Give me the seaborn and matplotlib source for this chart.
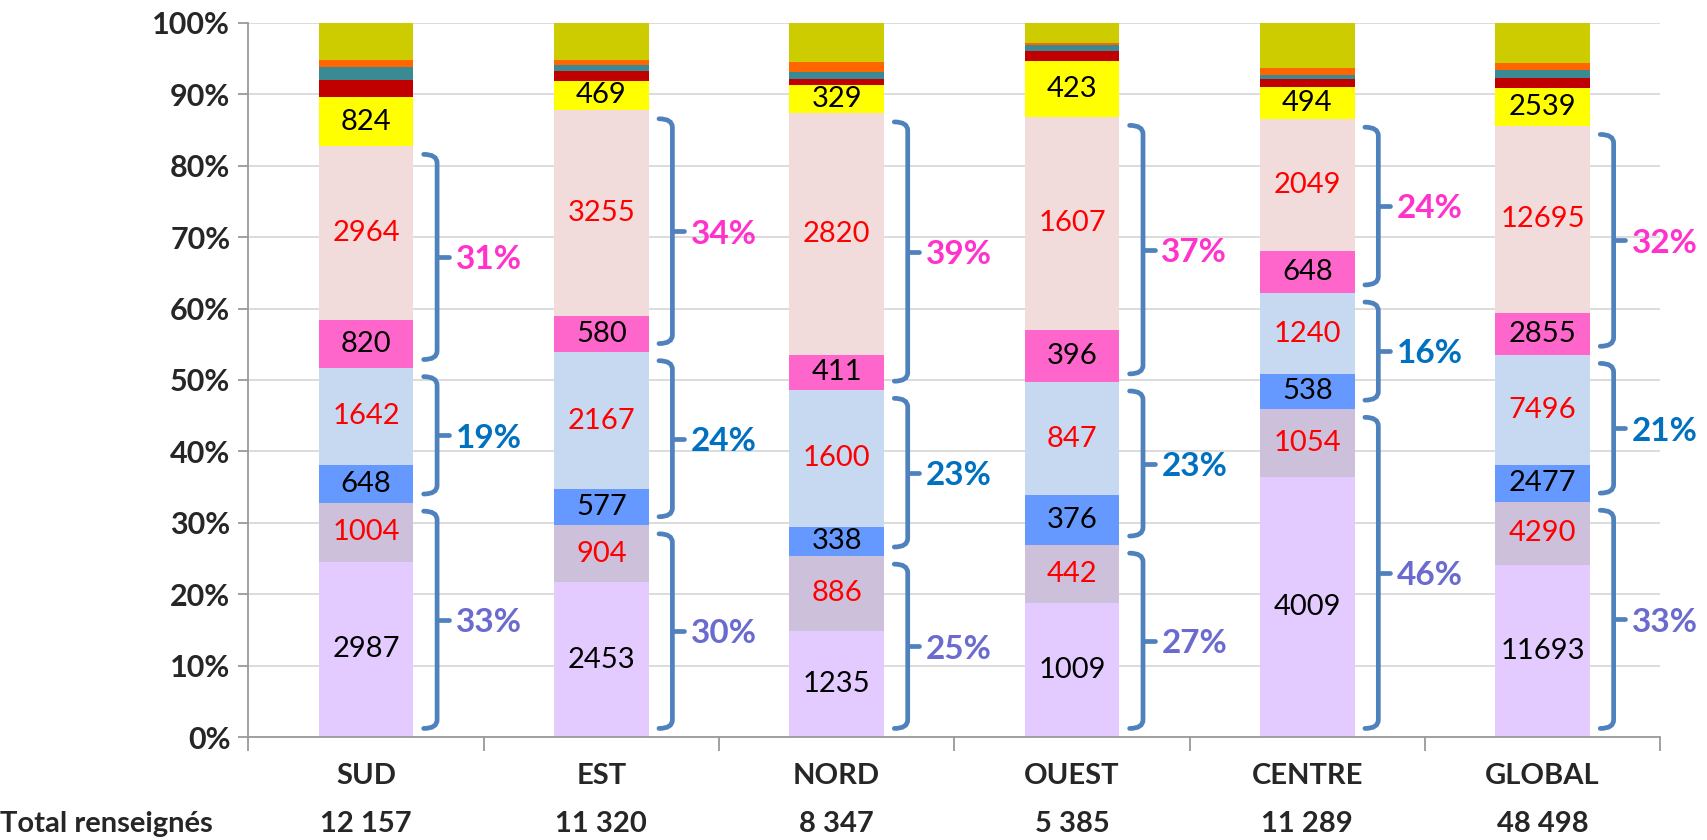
import matplotlib
matplotlib.use("Agg")
import matplotlib.pyplot as plt
from matplotlib.path import Path
from matplotlib.patches import PathPatch
from matplotlib.ticker import PercentFormatter
import seaborn as sns
import pandas as pd

# regions and "total renseignés"
regions = ["SUD", "EST", "NORD", "OUEST", "CENTRE", "GLOBAL"]
totals = [12157, 11320, 8347, 5385, 11289, 48498]

# segments, bottom to top (counts)
s1 = [2987, 2453, 1235, 1009, 4009, 11693]
s2 = [1004, 904, 886, 442, 1054, 4290]
s3 = [648, 577, 338, 376, 538, 2477]
s4 = [1642, 2167, 1600, 847, 1240, 7496]
s5 = [820, 580, 411, 396, 648, 2855]
s6 = [2964, 3255, 2820, 1607, 2049, 12695]
s7 = [824, 469, 329, 423, 494, 2539]
# small unlabeled segments at the top
s8 = [293, 147, 78, 77, 121, 697]
s9 = [230, 102, 82, 40, 62, 537]
s10 = [107, 79, 109, 20, 99, 483]
s11 = [638, 587, 459, 148, 700, 2736]

series = [s1, s2, s3, s4, s5, s6, s7, s8, s9, s10, s11]
cats = ["s1", "s2", "s3", "s4", "s5", "s6", "s7", "s8", "s9", "s10", "s11"]
colors = ["#E3CAFF", "#CCC0DA", "#6699FF", "#C6D9F1", "#FF66CC", "#F2DCDB",
          "#FFFF00", "#C00000", "#3A8A94", "#FF6600", "#CCCC00"]
label_colors = ["black", "#FF0000", "black", "#FF0000", "black", "#FF0000", "black"]
group_colors = ["#6B6BCF", "#0070C0", "#FF33CC"]

rows = []
for cat, vals in zip(cats, series):
    for r, v in zip(regions, vals):
        rows.append({"region": r, "cat": cat, "n": v})
df = pd.DataFrame(rows)
df["region"] = pd.Categorical(df["region"], categories=regions, ordered=True)

sns.set_theme(style="white")
plt.rcParams["font.family"] = ["Lato", "DejaVu Sans"]

fig = plt.figure(figsize=(17.07, 8.40), dpi=100)
ax = fig.add_axes([0.1455, 0.1226, 0.8271, 0.8501])

# seaborn stacks the first hue level on top, so reverse
sns.histplot(data=df, x="region", hue="cat", weights="n", multiple="fill",
             discrete=True, shrink=0.403, hue_order=cats[::-1],
             palette=dict(zip(cats, colors)), alpha=1, linewidth=0,
             legend=False, ax=ax, zorder=2)

ax.set_xlim(-0.5, 5.5)
ax.set_ylim(0, 1)
ax.set_xlabel("")
ax.set_ylabel("")
ax.yaxis.set_major_formatter(PercentFormatter(1.0, decimals=0))
ax.set_yticks([i / 10 for i in range(11)])
ax.set_xticks([i - 0.5 for i in range(7)])
ax.set_xticklabels([])
ax.yaxis.grid(True, color="#D9D9D9", lw=1.3, zorder=0)
ax.set_axisbelow(True)
for s in ["top", "right"]:
    ax.spines[s].set_visible(False)
for s in ["left", "bottom"]:
    ax.spines[s].set_color("#9A9A9A")
    ax.spines[s].set_linewidth(1.3)
ax.tick_params(axis="x", length=10, width=1.3, color="#9A9A9A", direction="out", bottom=True)
ax.tick_params(axis="y", length=7, width=1.3, color="#9A9A9A", direction="out", left=True,
               labelsize=22, pad=6)
for t in ax.get_yticklabels():
    t.set_fontweight("bold")


def brace(x, y0, y1, color="#4F81BD"):
    xv, xh, xt, c = x + 0.302, x + 0.245, x + 0.352, 0.012
    ym = (y0 + y1) / 2
    verts = [(xh, y0), (xv, y0), (xv, y0 + c), (xv, y1 - c), (xv, y1), (xh, y1)]
    codes = [Path.MOVETO, Path.CURVE3, Path.CURVE3, Path.LINETO, Path.CURVE3, Path.CURVE3]
    ax.add_patch(PathPatch(Path(verts, codes), fill=False, ec=color, lw=3.4,
                           capstyle="round", clip_on=False, zorder=3))
    ax.plot([xv, xt], [ym, ym], color=color, lw=3.4, solid_capstyle="round",
            clip_on=False, zorder=3)


for i, r in enumerate(regions):
    vals = [s[i] for s in series]
    tot = sum(vals)
    cum = [0]
    for v in vals:
        cum.append(cum[-1] + v / tot)
    # numbers in the segments
    for k in range(7):
        ax.text(i, (cum[k] + cum[k + 1]) / 2, str(vals[k]), ha="center", va="center",
                fontsize=21, color=label_colors[k], zorder=4)
    # braces over pairs of segments
    for g in range(3):
        lo, hi = cum[2 * g], cum[2 * g + 2]
        brace(i, lo + 0.012, hi - 0.012)
        pct = (vals[2 * g] + vals[2 * g + 1]) / tot * 100
        ax.text(i + 0.38, (lo + hi) / 2 - 0.004, f"{pct:.0f}%", ha="left", va="center",
                fontsize=24, fontweight="bold", color=group_colors[g], clip_on=False)
    # category and totals below the axis
    ax.text(i, -0.055, r, ha="center", va="center", fontsize=21, fontweight="bold",
            clip_on=False)
    ax.text(i, -0.122, f"{totals[i]:,}".replace(",", " "), ha="center", va="center",
            fontsize=21, fontweight="bold", clip_on=False)

fig.text(0.0, 0.0194, "Total renseignés", ha="left", va="center", fontsize=21,
         fontweight="bold")

fig.savefig("out.png", dpi=100)
